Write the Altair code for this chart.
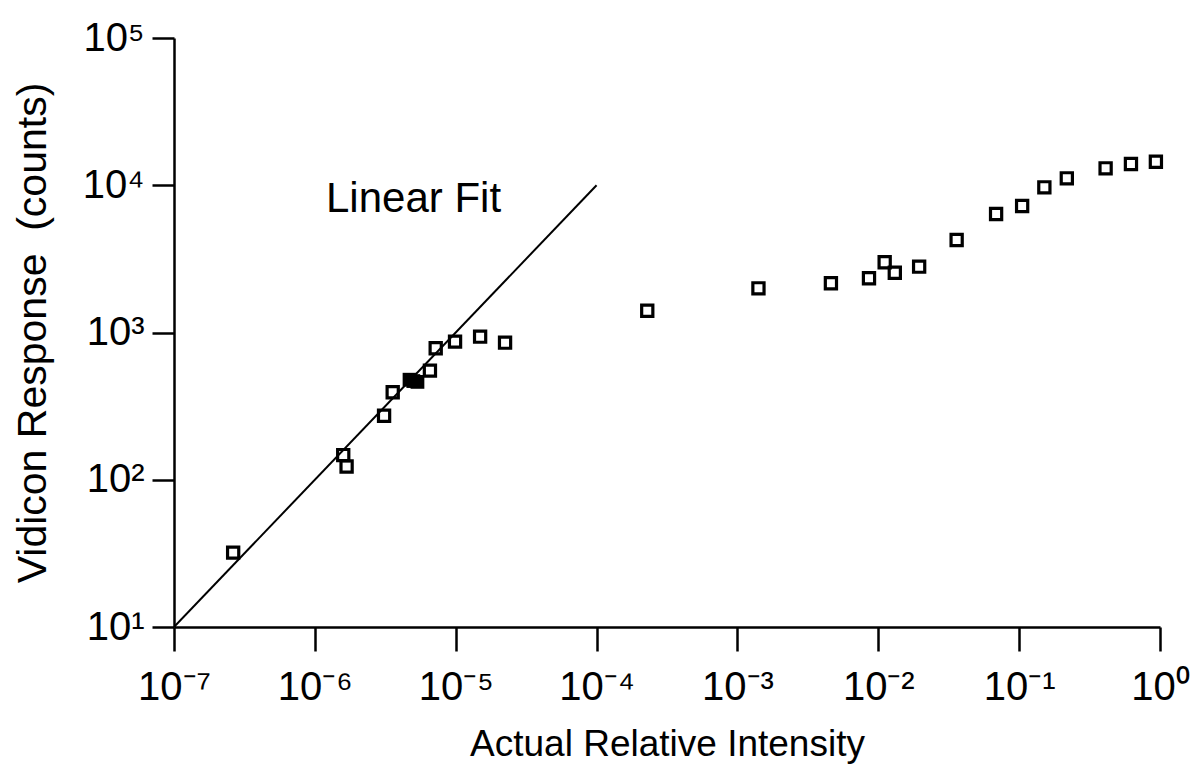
import altair as alt
import pandas as pd

# Measured points (open squares)
x_vals = [2.63e-7, 1.59e-6, 1.68e-6, 3.10e-6, 3.57e-6, 6.56e-6, 7.21e-6, 9.89e-6,
          1.49e-5, 2.24e-5, 2.29e-4, 1.41e-3, 4.61e-3, 8.59e-3, 1.11e-2, 1.31e-2,
          1.95e-2, 3.60e-2, 6.86e-2, 0.105, 0.151, 0.218, 0.411, 0.622, 0.935]
y_vals = [32, 147, 123, 272, 393, 551, 782, 867,
          937, 853, 1406, 1995, 2158, 2334, 3000, 2548,
          2800, 4246, 6383, 7228, 9680, 11140, 13030, 13930, 14450]

# Overlapping cluster (appears as filled block)
cluster_x = [4.70e-6, 5.00e-6, 5.35e-6]
cluster_y = [478, 468, 462]

# Linear fit line endpoints
fit_x = [1e-7, 1e-4]
fit_y = [10, 1e4]

# Annotation
note_text = ["Linear Fit"]
note_x = [1.2e-6]
note_y = [8070]

x_ticks = [1e-7, 1e-6, 1e-5, 1e-4, 1e-3, 1e-2, 1e-1, 1e0]
y_ticks = [1e1, 1e2, 1e3, 1e4, 1e5]

sup = {"-": "\u207b", "0": "\u2070", "1": "\u00b9", "2": "\u00b2", "3": "\u00b3",
       "4": "\u2074", "5": "\u2075", "6": "\u2076", "7": "\u2077", "8": "\u2078", "9": "\u2079"}


def label_expr(exps):
    expr = "''"
    for e in exps:
        s = "10" + "".join(sup[c] for c in str(e))
        expr = f"round(log(datum.value)/LN10) == {e} ? '{s}' : ({expr})"
    return expr


FONT = "Liberation Sans"

pts = pd.DataFrame({"x": x_vals, "y": y_vals})
clu = pd.DataFrame({"x": cluster_x, "y": cluster_y})
fit = pd.DataFrame({"x": fit_x, "y": fit_y})
note = pd.DataFrame({"x": note_x, "y": note_y, "t": note_text})

xscale = alt.Scale(type="log", domain=[1e-7, 1], nice=False)
yscale = alt.Scale(type="log", domain=[10, 1e5], nice=False)

xaxis = alt.Axis(values=x_ticks, labelExpr=label_expr(range(-7, 1)), grid=False,
                 title="Actual Relative Intensity", tickSize=24, tickWidth=2.5,
                 domainWidth=2.5, domainColor="black", tickColor="black",
                 labelFont=FONT, labelFontSize=40, labelColor="black",
                 labelPadding=16, titleFont=FONT, titleFontSize=37,
                 titleFontWeight="normal", titleColor="black", titlePadding=19,
                 labelFlush=False, labelOverlap=False)
yaxis = alt.Axis(values=y_ticks, labelExpr=label_expr(range(1, 6)), grid=False,
                 title="Vidicon Response\u00a0\u00a0(counts)", tickSize=22, tickWidth=2.5,
                 domainWidth=2.5, domainColor="black", tickColor="black",
                 labelFont=FONT, labelFontSize=40, labelColor="black",
                 labelPadding=8, titleFont=FONT, titleFontSize=41,
                 titleFontWeight="normal", titleColor="black", titlePadding=28,
                 labelFlush=False, labelOverlap=False)

line = alt.Chart(fit).mark_line(color="black", strokeWidth=2, clip=True).encode(
    x=alt.X("x:Q", scale=xscale, axis=xaxis),
    y=alt.Y("y:Q", scale=yscale, axis=yaxis),
)

points = alt.Chart(pts).mark_point(shape="square", size=125, filled=False,
                                   color="black", strokeWidth=3.2, opacity=1).encode(
    x=alt.X("x:Q", scale=xscale),
    y=alt.Y("y:Q", scale=yscale),
)

cluster = alt.Chart(clu).mark_point(shape="square", size=190, filled=True,
                                    color="black", opacity=1).encode(
    x=alt.X("x:Q", scale=xscale),
    y=alt.Y("y:Q", scale=yscale),
)

text = alt.Chart(note).mark_text(align="left", baseline="middle", font=FONT,
                                 fontSize=42, color="black").encode(
    x=alt.X("x:Q", scale=xscale),
    y=alt.Y("y:Q", scale=yscale),
    text="t:N",
)

chart = alt.layer(line, points, cluster, text).properties(
    width=986, height=589,
    autosize=alt.AutoSizeParams(type="none"),
    padding={"left": 166, "top": 30, "right": 33, "bottom": 140},
    background="white",
).configure_view(stroke=None)

chart.save("out.html", embed_options={"renderer": "svg", "actions": False})
